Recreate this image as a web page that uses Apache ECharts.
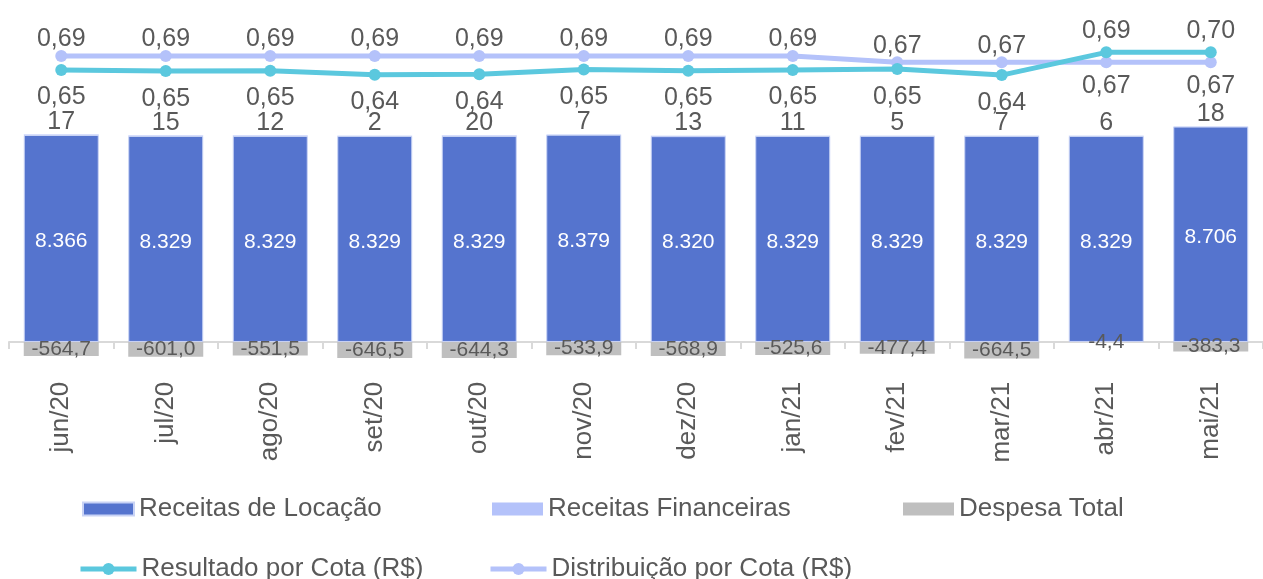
<!DOCTYPE html>
<html>
<head>
<meta charset="utf-8">
<script src="https://cdn.jsdelivr.net/npm/echarts@6/dist/echarts.min.js"></script>
<style>html,body{margin:0;padding:0;background:#fff}#c{width:1263px;height:579px}</style>
</head>
<body>
<div id="c"></div>
<script>
const categories = ['jun/20','jul/20','ago/20','set/20','out/20','nov/20','dez/20','jan/21','fev/21','mar/21','abr/21','mai/21'];
const receitasLocacao = [8366, 8329, 8329, 8329, 8329, 8379, 8320, 8329, 8329, 8329, 8329, 8706];
const receitasFinanceiras = [17, 15, 12, 2, 20, 7, 13, 11, 5, 7, 6, 18];
const despesaTotal = [-564.7, -601.0, -551.5, -646.5, -644.3, -533.9, -568.9, -525.6, -477.4, -664.5, -4.4, -383.3];
const resultadoCota = [0.651, 0.648, 0.649, 0.639, 0.640, 0.652, 0.649, 0.651, 0.653, 0.638, 0.6949, 0.6951];
const distribuicaoCota = [0.686, 0.686, 0.686, 0.686, 0.686, 0.686, 0.686, 0.686, 0.670, 0.670, 0.670, 0.670];

const FONT = "'Liberation Sans', Arial, sans-serif";
const TXT = '#595959';
const C_LOC = '#5574CE', C_FIN = '#B4C2FA', C_DES = '#BFBFBF', C_RES = '#5BC8DE', C_DIS = '#B4C2FA';

const fmtThousand = v => Math.round(v).toString().replace(/\B(?=(\d{3})+(?!\d))/g, '.');
const fmt1 = v => v.toFixed(1).replace('.', ',');
const fmt2 = v => v.toFixed(2).replace('.', ',');

const resData = resultadoCota.map((v, i) => {
  const above = v > distribuicaoCota[i];
  return { value: v, label: { position: above ? 'top' : 'bottom', distance: above ? 3 : 9 } };
});
const disData = distribuicaoCota.map((v, i) => {
  const above = v >= resultadoCota[i];
  return { value: v, label: { position: above ? 'top' : 'bottom', distance: above ? -2 : 5 } };
});

const chart = echarts.init(document.getElementById('c'), null, { renderer: 'canvas' });
const legendBase = {
  padding: 0, itemWidth: 51, itemHeight: 13, itemGap: 5, selectedMode: false,
  textStyle: { fontSize: 26, color: TXT, fontFamily: FONT }
};
const lineLegend = { itemWidth: 56, itemHeight: 15, lineStyle: { width: 5 } };
chart.setOption({
  animation: false,
  textStyle: { fontFamily: FONT },
  grid: { left: 9, right: 0, top: 8, bottom: 212.3, containLabel: false },
  legend: [
    Object.assign({}, legendBase, { left: 82, top: 496, data: [{ name: 'Receitas de Locação', icon: 'rect' }] }),
    Object.assign({}, legendBase, { left: 492, top: 496, data: [{ name: 'Receitas Financeiras', icon: 'rect' }] }),
    Object.assign({}, legendBase, { left: 903, top: 496, data: [{ name: 'Despesa Total', icon: 'rect' }] }),
    Object.assign({}, legendBase, lineLegend, { left: 78, top: 556, data: ['Resultado por Cota (R$)'] }),
    Object.assign({}, legendBase, lineLegend, { left: 488, top: 556, data: ['Distribuição por Cota (R$)'] })
  ],
  xAxis: {
    type: 'category',
    data: categories,
    boundaryGap: true,
    axisLine: { onZero: true, lineStyle: { color: '#D9D9D9', width: 2 } },
    axisTick: { show: true, interval: 0, length: 7, lineStyle: { color: '#D9D9D9', width: 2 } },
    axisLabel: { rotate: 90, margin: 15, fontSize: 26, color: TXT, fontFamily: FONT, interval: 0 },
    splitLine: { show: false }
  },
  yAxis: [
    { type: 'value', min: -1000, max: 13500, show: false, splitLine: { show: false } },
    { type: 'value', min: -0.091, max: 0.8058, show: false, splitLine: { show: false }, alignTicks: false }
  ],
  series: [
    {
      name: 'Receitas de Locação', type: 'bar', stack: 'tot', barWidth: 75,
      data: receitasLocacao,
      itemStyle: { color: C_LOC, borderColor: '#C9D3F5', borderWidth: 1 },
      label: { show: true, position: 'inside', offset: [0, 3], color: '#fff', fontSize: 21, fontFamily: FONT, formatter: p => fmtThousand(p.value) }
    },
    {
      name: 'Receitas Financeiras', type: 'bar', stack: 'tot', barWidth: 75,
      data: receitasFinanceiras,
      itemStyle: { color: C_FIN },
      label: { show: true, position: 'top', distance: 0, color: TXT, fontSize: 25, fontFamily: FONT, formatter: p => String(p.value) }
    },
    {
      name: 'Despesa Total', type: 'bar', stack: 'tot', barWidth: 75,
      data: despesaTotal,
      itemStyle: { color: C_DES },
      label: { show: true, position: 'inside', color: TXT, fontSize: 21, fontFamily: FONT, formatter: p => fmt1(p.value) }
    },
    {
      name: 'Resultado por Cota (R$)', type: 'line', yAxisIndex: 1, z: 5,
      data: resData,
      symbol: 'circle', symbolSize: 12,
      lineStyle: { color: C_RES, width: 5 },
      itemStyle: { color: C_RES },
      label: { show: true, color: TXT, fontSize: 25, fontFamily: FONT, formatter: p => fmt2(p.value) }
    },
    {
      name: 'Distribuição por Cota (R$)', type: 'line', yAxisIndex: 1, z: 4,
      data: disData,
      symbol: 'circle', symbolSize: 12,
      lineStyle: { color: C_DIS, width: 5 },
      itemStyle: { color: C_DIS },
      label: { show: true, color: TXT, fontSize: 25, fontFamily: FONT, formatter: p => fmt2(p.value) }
    }
  ]
});
</script>
</body>
</html>
